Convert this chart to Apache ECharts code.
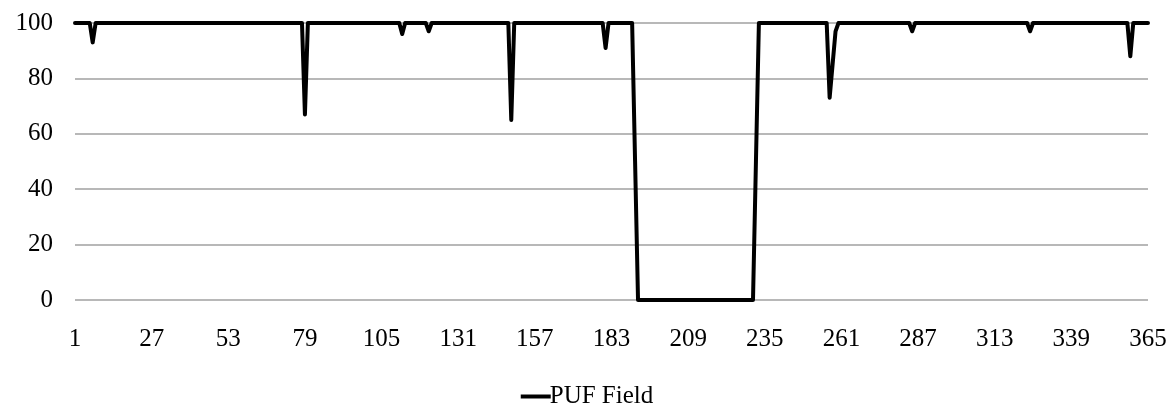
<!DOCTYPE html>
<html>
<head>
<meta charset="utf-8">
<script src="https://cdn.jsdelivr.net/npm/echarts@6/dist/echarts.min.js"></script>
<style>html,body{margin:0;padding:0;background:#fff}#c{width:1174px;height:410px}</style>
</head>
<body>
<div id="c"></div>
<script>
const seriesName = 'PUF Field';
const yTicks = [0, 20, 40, 60, 80, 100];
const pufField = [
  100,100,100,100,100,100,93,100,100,100,100,100,100,100,100,100,100,100,100,100,
  100,100,100,100,100,100,100,100,100,100,100,100,100,100,100,100,100,100,100,100,
  100,100,100,100,100,100,100,100,100,100,100,100,100,100,100,100,100,100,100,100,
  100,100,100,100,100,100,100,100,100,100,100,100,100,100,100,100,100,100,67,100,
  100,100,100,100,100,100,100,100,100,100,100,100,100,100,100,100,100,100,100,100,
  100,100,100,100,100,100,100,100,100,100,100,96,100,100,100,100,100,100,100,100,
  97,100,100,100,100,100,100,100,100,100,100,100,100,100,100,100,100,100,100,100,
  100,100,100,100,100,100,100,100,65,100,100,100,100,100,100,100,100,100,100,100,
  100,100,100,100,100,100,100,100,100,100,100,100,100,100,100,100,100,100,100,100,
  91,100,100,100,100,100,100,100,100,100,50,0,0,0,0,0,0,0,0,0,
  0,0,0,0,0,0,0,0,0,0,0,0,0,0,0,0,0,0,0,0,
  0,0,0,0,0,0,0,0,0,0,0,50,100,100,100,100,100,100,100,100,
  100,100,100,100,100,100,100,100,100,100,100,100,100,100,100,100,73,85,97,100,
  100,100,100,100,100,100,100,100,100,100,100,100,100,100,100,100,100,100,100,100,
  100,100,100,100,97,100,100,100,100,100,100,100,100,100,100,100,100,100,100,100,
  100,100,100,100,100,100,100,100,100,100,100,100,100,100,100,100,100,100,100,100,
  100,100,100,100,97,100,100,100,100,100,100,100,100,100,100,100,100,100,100,100,
  100,100,100,100,100,100,100,100,100,100,100,100,100,100,100,100,100,100,88,100,
  100,100,100,100,100
];
const days = pufField.map((_, i) => String(i + 1));

const font = '"Liberation Serif", "Times New Roman", serif';
const chart = echarts.init(document.getElementById('c'), null, {renderer: 'canvas'});
chart.setOption({
  animation: false,
  backgroundColor: '#fff',
  grid: {left: 75, right: 26, top: 23, bottom: 110, containLabel: false},
  xAxis: {
    type: 'category',
    data: days,
    boundaryGap: false,
    axisLine: {show: false},
    axisTick: {show: false},
    axisLabel: {interval: 25, color: '#000', fontFamily: font, fontSize: 25, margin: 27}
  },
  yAxis: {
    type: 'value',
    min: yTicks[0],
    max: yTicks[yTicks.length - 1],
    interval: 20,
    axisLine: {show: false},
    axisTick: {show: false},
    axisLabel: {color: '#000', fontFamily: font, fontSize: 25, margin: 22},
    splitLine: {lineStyle: {color: '#a0a0a0', width: 1.5}}
  },
  legend: {
    top: 379,
    left: 'center',
    icon: 'path://M0,0H30V4H0Z',
    itemWidth: 30,
    itemHeight: 4,
    itemGap: 0,
    textStyle: {color: '#000', fontFamily: font, fontSize: 25, padding: [0, 0, 0, -6]},
    data: [seriesName]
  },
  series: [{
    name: seriesName,
    type: 'line',
    data: pufField,
    symbol: 'none',
    lineStyle: {color: '#000', width: 4, join: 'round', cap: 'round'},
    itemStyle: {color: '#000'}
  }]
});
</script>
</body>
</html>
